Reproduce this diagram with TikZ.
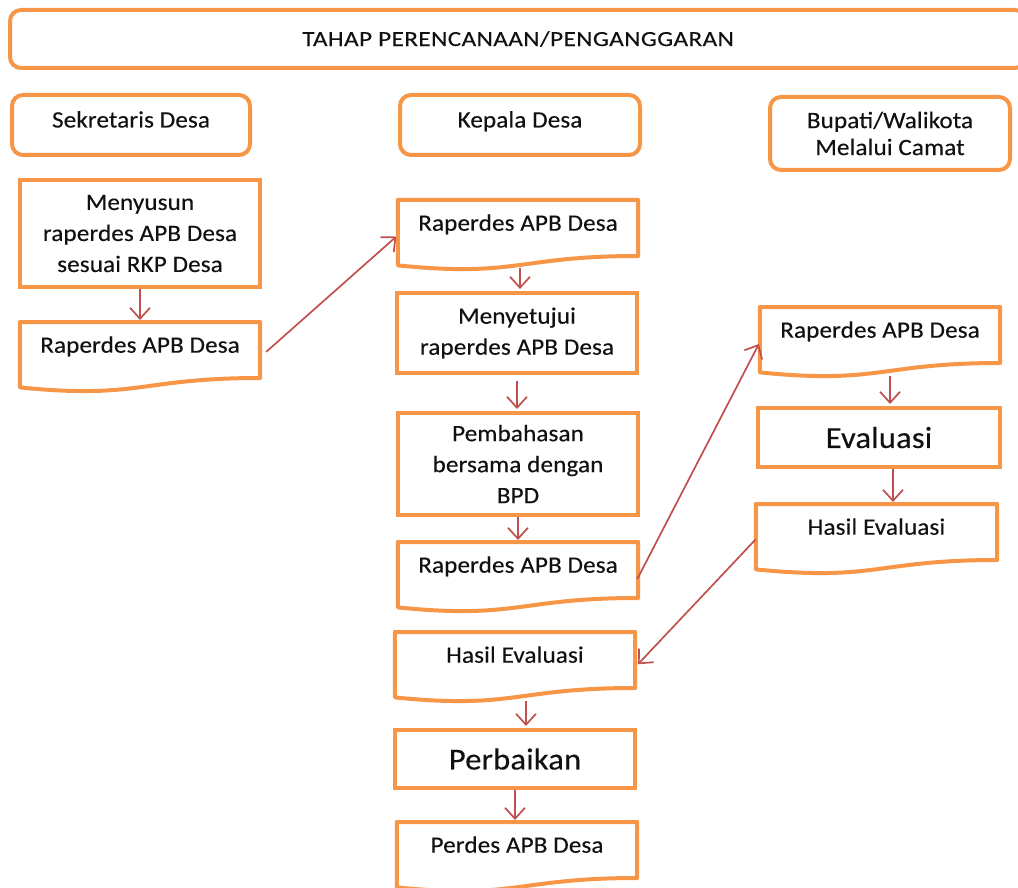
\documentclass[tikz,border=0pt]{standalone}
\usepackage{fontspec}
\setmainfont{Carlito}[FakeStretch=1.07,LetterSpace=0.5,FakeBold=0.3]
\newfontfamily\hdfont{Carlito}[FakeStretch=1.17,LetterSpace=2,FakeBold=0.2]
\usetikzlibrary{arrows.meta,calc}
\definecolor{orng}{HTML}{F79646}
\definecolor{arr}{HTML}{C0504D}
\definecolor{txt}{HTML}{111111}
\tikzset{
  boxbase/.style={draw=orng, line width=4pt, align=center, inner sep=0pt, text=txt, font=\fontsize{23.5}{31}\selectfont},
  pbox/.style={boxbase, minimum width=240pt},
  rbox/.style={boxbase, rounded corners=11pt},
  oneline/.style={text height=12pt, text depth=7pt},
  bigtext/.style={font=\fontsize{30.5}{36}\selectfont},
  docnode/.style={minimum width=240pt, minimum height=70pt, inner sep=0pt, align=center, text=txt,
     text height=12pt, text depth=21pt, anchor=north, font=\fontsize{23.5}{31}\selectfont},
  docline/.style={draw=orng, line width=4pt, line join=round},
  conn/.style={draw=arr, line width=1.7pt, -{Straight Barb[length=11pt,width=20pt]}}
}
\newcommand\docoutline[1]{%
  \draw[docline] (#1.north west) -- (#1.north east) -- ($(#1.north east)+(0,56)$)
    .. controls ($(#1.north)+(0,56)$) and ($(#1.north)+(0,77.5)$) .. ($(#1.north west)+(0,65.4)$) -- cycle;}
\begin{document}
\begin{tikzpicture}[x=1pt,y=-1pt]
\useasboundingbox (0,0) rectangle (1018,888);
% header and role boxes
\node[rbox, minimum width=1016pt, minimum height=58pt, font=\hdfont\fontsize{21.5}{26}\selectfont] (title) at (518,39) {TAHAP PERENCANAAN/PENGANGGARAN};
\node[rbox, oneline, minimum width=238pt, minimum height=60pt] (sek) at (131,125) {Sekretaris Desa};
\node[rbox, oneline, minimum width=240pt, minimum height=60pt] (kep) at (520,125) {Kepala Desa};
\node[rbox, minimum width=240pt, minimum height=73pt, font=\fontsize{23.5}{27}\selectfont] (bup) at (890,133.5) {Bupati/Walikota\\Melalui Camat};
% left column
\node[pbox, minimum height=107pt] (menyusun) at (140,233.5) {Menyusun\\raperdes APB Desa\\sesuai RKP Desa};
\node[docnode] (l1) at (140,322) {Raperdes APB Desa};
% middle column
\node[docnode] (k1) at (518,200) {Raperdes APB Desa};
\node[pbox, minimum height=80pt] (setuju) at (517,333) {Menyetujui\\raperdes APB Desa};
\node[pbox, minimum height=102pt] (bahas) at (518,464) {Pembahasan\\bersama dengan\\BPD};
\node[docnode] (k2) at (518,542) {Raperdes APB Desa};
\node[docnode] (k3) at (515,632) {Hasil Evaluasi};
\node[pbox, minimum height=58pt, bigtext] (baik) at (515,759) {Perbaikan};
\node[docnode] (perdes) at (517,822) {Perdes APB Desa};
% right column
\node[docnode] (b1) at (880,307) {Raperdes APB Desa};
\node[pbox, minimum width=242pt, minimum height=59pt, bigtext] (eval) at (879,437.5) {Evaluasi};
\node[docnode, minimum width=241pt] (b2) at (876.5,504) {Hasil Evaluasi};
% document outlines
\docoutline{l1}
\docoutline{k1}
\docoutline{k2}
\docoutline{k3}
\docoutline{perdes}
\docoutline{b1}
\docoutline{b2}
% connectors
\draw[conn, shorten >=2pt] (menyusun.south) -- (menyusun.south |- l1.north);
\draw[conn, shorten <=8pt, shorten >=2pt] (l1.east) -- (k1.west);
\draw[conn, shorten <=-2pt, shorten >=2pt] ([xshift=2pt]k1.south) -- ([xshift=2pt]k1.south |- setuju.north);
\draw[conn, shorten <=6pt, shorten >=2pt] (setuju.south) -- (setuju.south |- bahas.north);
\draw[conn, shorten >=2pt] (bahas.south) -- (bahas.south |- k2.north);
\draw[conn, shorten <=-2pt, shorten >=2pt] (k2.east) -- (b1.west);
\draw[conn, shorten <=-1pt, shorten >=2pt] ([xshift=10pt]b1.south) -- ([xshift=10pt]b1.south |- eval.north);
\draw[conn, shorten >=2pt] ([xshift=14pt]eval.south) -- ([xshift=14pt]eval.south |- b2.north);
\draw[conn, shorten >=4pt] (b2.west) -- (k3.east);
\draw[conn, shorten <=-1pt, shorten >=2pt] ([xshift=11pt]k3.south) -- ([xshift=11pt]k3.south |- baik.north);
\draw[conn, shorten >=2pt] (baik.south) -- (baik.south |- perdes.north);
\end{tikzpicture}
\end{document}
